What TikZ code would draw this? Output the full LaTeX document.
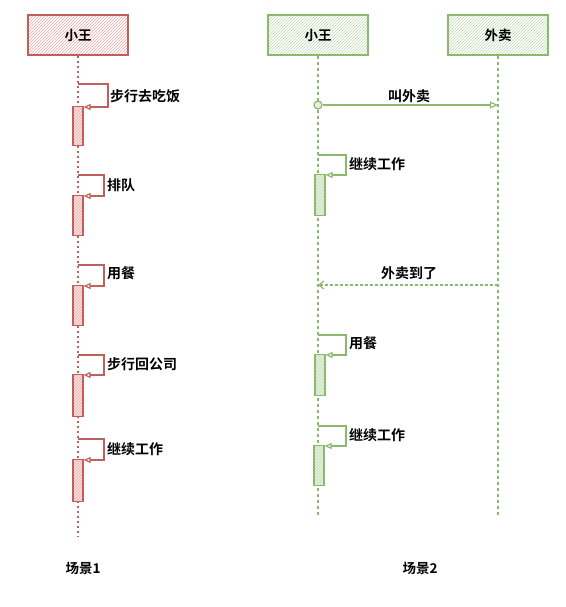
\documentclass[tikz,border=0pt]{standalone}
\usepackage{fontspec}
\setmainfont{Noto Sans CJK SC}[BoldFont={Noto Sans CJK SC Bold}]
\usetikzlibrary{arrows.meta,patterns}
\definecolor{rline}{HTML}{C0605C}
\definecolor{rfill}{HTML}{EFA9A7}
\definecolor{gline}{HTML}{8BBA6E}
\definecolor{gfill}{HTML}{BCD9AF}
\tikzset{
  txt/.style={font=\bfseries\fontsize{13.5}{15}\selectfont, inner sep=1pt},
  headR/.style={draw=rline, line width=1.4pt, pattern=north east lines, pattern color=rfill, minimum width=100pt, minimum height=40pt, txt},
  headG/.style={draw=gline, line width=1.4pt, pattern=north east lines, pattern color=gfill, minimum width=100pt, minimum height=40pt, txt},
  actR/.style={draw=rline, line width=1.2pt, preaction={fill=rfill!35}, pattern=north east lines, pattern color=rfill, minimum width=10pt, inner sep=0pt, anchor=north},
  actG/.style={draw=gline, line width=1.2pt, preaction={fill=gfill!35}, pattern=north east lines, pattern color=gfill, minimum width=10pt, inner sep=0pt, anchor=north},
  lifeR/.style={draw=rline, line width=2pt, dash pattern=on 2pt off 3pt},
  lifeG/.style={draw=gline, line width=1.5pt, dash pattern=on 3pt off 3pt},
  selfR/.style={draw=rline, line width=1.2pt, -{Triangle[open,length=7pt,width=6pt]}},
  selfG/.style={draw=gline, line width=1.2pt, -{Triangle[open,length=7pt,width=6pt]}},
  lbl/.style={font=\bfseries\fontsize{14}{16}\selectfont, inner sep=1pt, anchor=west},
}
\begin{document}
\begin{tikzpicture}[x=1pt,y=-1pt]
\useasboundingbox (0,0) rectangle (565,607);
% ---------- scene 1 ----------
\node[headR] (w1) at (78,35) {小王};
\coordinate (w1end) at (78,537);
\draw[lifeR] (w1.south) -- (w1end);
% activations
\node[actR, minimum height=39pt] (ra1) at (78,106) {};
\node[actR, minimum height=40pt] (ra2) at (78,195) {};
\node[actR, minimum height=40pt] (ra3) at (78,285) {};
\node[actR, minimum height=42pt] (ra4) at (78,374) {};
\node[actR, minimum height=42pt] (ra5) at (78,459) {};
% self calls
\coordinate (rs1) at (78,84);
\coordinate (rs2) at (78,175);
\coordinate (rs3) at (78,265);
\coordinate (rs4) at (78,355);
\coordinate (rs5) at (78,439);
\draw[selfR] (rs1) -- ++(30,0) |- ([yshift=-1pt]ra1.north east);
\draw[selfR] (rs2) -- ++(26,0) |- ([yshift=-1pt]ra2.north east);
\draw[selfR] (rs3) -- ++(26,0) |- ([yshift=-1pt]ra3.north east);
\draw[selfR] (rs4) -- ++(26,0) |- ([yshift=-1pt]ra4.north east);
\draw[selfR] (rs5) -- ++(26,0) |- ([yshift=-1pt]ra5.north east);
\node[lbl] (rl1) at (109,96) {步行去吃饭};
\node[lbl] (rl2) at (106,185) {排队};
\node[lbl] (rl3) at (106,273) {用餐};
\node[lbl] (rl4) at (106,364) {步行回公司};
\node[lbl] (rl5) at (106,449) {继续工作};
\node[txt] (sc1) at (83,568) {场景1};
% ---------- scene 2 ----------
\node[headG] (w2) at (318,35) {小王};
\node[headG] (wm) at (498,35) {外卖};
\coordinate (w2end) at (318,517);
\coordinate (wmend) at (498,517);
\draw[lifeG] (w2.south) -- (w2end);
\draw[lifeG] (wm.south) -- (wmend);
% call
\coordinate (c1) at (318,105);
\coordinate (c1e) at (498,105);
\node[draw=gline, line width=1.2pt, circle, fill=gfill!40, inner sep=0pt, minimum size=8pt] (c1dot) at (c1) {};
\draw[draw=gline, line width=1.2pt, -{Triangle[open,length=8pt,width=7pt]}] (c1dot) -- (c1e);
\node[lbl, anchor=center] (gl1) at (409,96) {叫外卖};
% reply
\coordinate (r1) at (498,285);
\coordinate (r1e) at (318,285);
\draw[draw=gline, line width=1.2pt, dash pattern=on 3pt off 2pt, -{Straight Barb[length=5pt,width=8pt]}] (r1) -- (r1e);
\node[lbl, anchor=center] (gl2) at (409,273) {外卖到了};
% activations
\node[actG, minimum height=41pt] (ga1) at (320,174) {};
\node[actG, minimum height=41pt] (ga2) at (320,354) {};
\node[actG, minimum height=40pt] (ga3) at (319,445) {};
\coordinate (gs1) at (318,155);
\coordinate (gs2) at (318,335);
\coordinate (gs3) at (318,426);
\draw[selfG] (gs1) -- ++(28,0) |- ([yshift=-1pt]ga1.north east);
\draw[selfG] (gs2) -- ++(28,0) |- ([yshift=-1pt]ga2.north east);
\draw[selfG] (gs3) -- ++(28,0) |- ([yshift=-1pt]ga3.north east);
\node[lbl] (gl3) at (348,164) {继续工作};
\node[lbl] (gl4) at (348,343) {用餐};
\node[lbl] (gl5) at (348,435) {继续工作};
\node[txt] (sc2) at (420,568) {场景2};
\end{tikzpicture}
\end{document}
